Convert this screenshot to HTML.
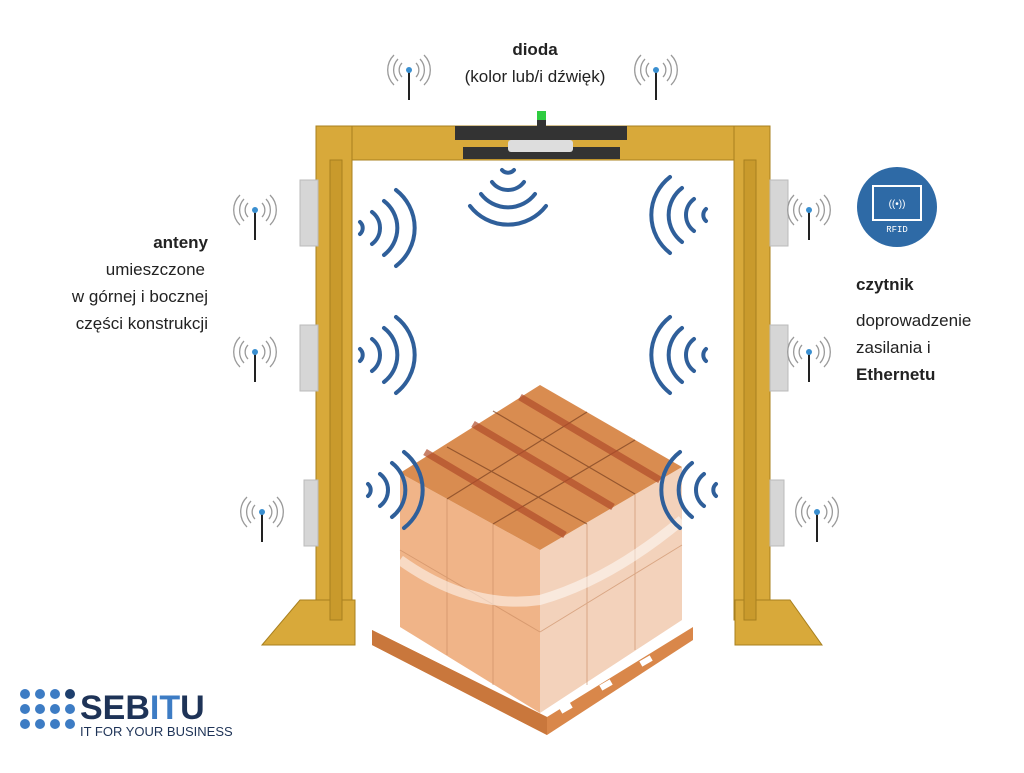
<!DOCTYPE html>
<html><head><meta charset="utf-8"><style>
body{margin:0;background:#fff;width:1024px;height:768px;overflow:hidden;font-family:"Liberation Sans",sans-serif}
</style></head><body>
<svg width="1024" height="768" viewBox="0 0 1024 768" xmlns="http://www.w3.org/2000/svg">
<defs>
<g id="ant">
 <line x1="0" y1="0" x2="0" y2="30" stroke="#222" stroke-width="2"/>
 <circle cx="0" cy="0" r="3" fill="#3a8fd0"/>
 <path d="M-7,-7 A10,10 0 0 0 -7,7 M7,-7 A10,10 0 0 1 7,7 M-11,-11 A16,16 0 0 0 -11,11 M11,-11 A16,16 0 0 1 11,11 M-15,-15 A21,21 0 0 0 -15,15 M15,-15 A21,21 0 0 1 15,15" fill="none" stroke="#999" stroke-width="1.3"/>
</g>
<g id="wr" fill="none" stroke="#2f5f9a" stroke-width="4" stroke-linecap="round">
 <path d="M0,-6 A8,8 0 0 1 0,6"/>
 <path d="M12,-16 A20,20 0 0 1 12,16"/>
 <path d="M24,-27 A34,34 0 0 1 24,27"/>
 <path d="M36,-38 A48,48 0 0 1 36,38"/>
</g>
</defs>
<!-- frame -->
<g fill="#d8a93a" stroke="#a8801f" stroke-width="1">
 <rect x="316" y="126" width="454" height="34"/>
 <rect x="316" y="126" width="36" height="494"/>
 <rect x="734" y="126" width="36" height="494"/>
 <polygon points="262,645 300,600 355,600 355,645"/>
 <polygon points="735,600 790,600 822,645 735,645"/>
 <rect x="330" y="160" width="12" height="460" fill="#c99a2c"/>
 <rect x="744" y="160" width="12" height="460" fill="#c99a2c"/>
</g>
<rect x="455" y="126" width="172" height="14" fill="#333"/>
<rect x="463" y="147" width="157" height="12" fill="#333"/>
<rect x="508" y="140" width="65" height="12" rx="3" fill="#ddd"/>
<rect x="537" y="111" width="9" height="10" fill="#2ecc40"/><rect x="537" y="120" width="9" height="6" fill="#333"/>
<g fill="#d6d6d6" stroke="#bbb">
 <rect x="300" y="180" width="18" height="66"/><rect x="300" y="325" width="18" height="66"/><rect x="304" y="480" width="14" height="66"/>
 <rect x="770" y="180" width="18" height="66"/><rect x="770" y="325" width="18" height="66"/><rect x="770" y="480" width="14" height="66"/>
</g>
<!-- pallet -->
<polygon points="372,630 547,717 693,627 693,640 547,735 372,645" fill="#d9874a"/>
<polygon points="372,630 547,717 547,735 372,645" fill="#c9773c"/>
<g fill="#fff"><rect x="560" y="705" width="12" height="6" transform="rotate(-30 566 708)"/><rect x="600" y="682" width="12" height="6" transform="rotate(-30 606 685)"/><rect x="640" y="658" width="12" height="6" transform="rotate(-30 646 661)"/></g>
<!-- boxes -->
<polygon points="400,473 540,550 540,713 400,627" fill="#f0b488"/>
<polygon points="540,550 682,467 682,620 540,713" fill="#f3d2bb"/>
<polygon points="540,385 682,467 540,550 400,473" fill="#d98c50"/>
<g stroke="#7a4020" stroke-width="1.2" opacity=".7">
 <line x1="447" y1="447" x2="587" y2="524"/><line x1="493" y1="411" x2="635" y2="494"/>
 <line x1="587" y1="412" x2="447" y2="499"/><line x1="635" y1="440" x2="493" y2="524"/>
</g>
<g stroke="#b04c2a" stroke-width="7" opacity=".7">
 <line x1="520" y1="397" x2="660" y2="480"/><line x1="473" y1="424" x2="613" y2="507"/><line x1="425" y1="452" x2="565" y2="535"/>
</g>
<g stroke="#c98a60" stroke-width="1" opacity=".6">
 <line x1="447" y1="499" x2="447" y2="655"/><line x1="493" y1="524" x2="493" y2="685"/>
 <line x1="587" y1="524" x2="587" y2="685"/><line x1="635" y1="494" x2="635" y2="650"/>
 <line x1="400" y1="550" x2="540" y2="632"/><line x1="540" y1="632" x2="682" y2="545"/>
</g>
<path d="M400,560 Q470,610 540,600 Q610,580 682,520" stroke="#fff" stroke-width="10" fill="none" opacity=".5"/>
<!-- waves -->
<use href="#wr" x="360" y="228"/><use href="#wr" x="360" y="355"/><use href="#wr" x="368" y="490"/>
<use href="#wr" transform="translate(706,215) scale(-1,1)"/><use href="#wr" transform="translate(706,355) scale(-1,1)"/><use href="#wr" transform="translate(716,490) scale(-1,1)"/>
<use href="#wr" transform="translate(508,170) rotate(90)"/>
<!-- antennas -->
<use href="#ant" x="409" y="70"/><use href="#ant" x="656" y="70"/>
<use href="#ant" x="255" y="210"/><use href="#ant" x="255" y="352"/><use href="#ant" x="262" y="512"/>
<use href="#ant" x="809" y="210"/><use href="#ant" x="809" y="352"/><use href="#ant" x="817" y="512"/>
<!-- RFID icon -->
<circle cx="897" cy="207" r="40" fill="#2e6aa6"/>
<rect x="873" y="186" width="48" height="34" fill="none" stroke="#fff" stroke-width="2"/>
<text x="897" y="232" fill="#fff" font-size="9" text-anchor="middle" font-family="Liberation Mono">RFID</text>
<text x="897" y="207" fill="#fff" font-size="10" text-anchor="middle">((•))</text>
<!-- text -->
<g font-size="17" fill="#222">
 <text x="535" y="55" text-anchor="middle" font-weight="bold">dioda</text>
 <text x="535" y="82" text-anchor="middle">(kolor lub/i dźwięk)</text>
 <text x="208" y="248" text-anchor="end" font-weight="bold">anteny</text>
 <text x="205" y="275" text-anchor="end">umieszczone</text>
 <text x="208" y="302" text-anchor="end">w górnej i bocznej</text>
 <text x="208" y="329" text-anchor="end">części konstrukcji</text>
 <text x="856" y="290" font-weight="bold">czytnik</text>
 <text x="856" y="326">doprowadzenie</text>
 <text x="856" y="353">zasilania i</text>
 <text x="856" y="380" font-weight="bold">Ethernetu</text>
</g>
<!-- logo -->
<g fill="#3d7cc4">
 <circle cx="25" cy="694" r="5"/><circle cx="40" cy="694" r="5"/><circle cx="55" cy="694" r="5"/><circle cx="70" cy="694" r="5" fill="#1e3f6e"/>
 <circle cx="25" cy="709" r="5"/><circle cx="40" cy="709" r="5"/><circle cx="55" cy="709" r="5"/><circle cx="70" cy="709" r="5"/>
 <circle cx="25" cy="724" r="5"/><circle cx="40" cy="724" r="5"/><circle cx="55" cy="724" r="5"/><circle cx="70" cy="724" r="5"/>
</g>
<text x="80" y="719" font-size="34" font-weight="bold" fill="#1e3357">SEB<tspan fill="#3d7cc4">IT</tspan>U</text>
<text x="80" y="736" font-size="13" fill="#1e3357">IT FOR YOUR BUSINESS</text>
</svg>
</body></html>
